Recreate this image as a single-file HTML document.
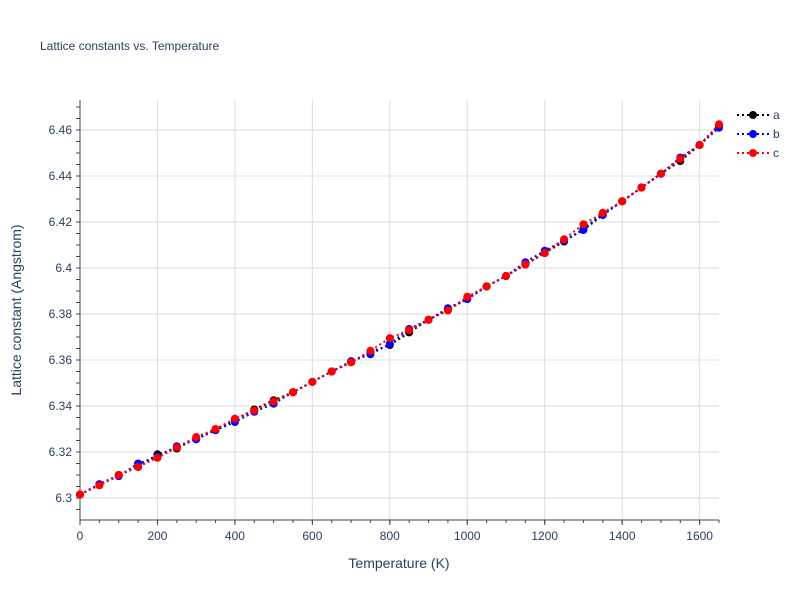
<!DOCTYPE html>
<html><head><meta charset="utf-8"><style>
body{margin:0;background:#fff;font-family:"Liberation Sans",sans-serif}
</style></head><body>
<svg id="chart" width="800" height="600" xmlns="http://www.w3.org/2000/svg" font-family="Liberation Sans, sans-serif">
<text x="40" y="50" font-size="12" fill="#2a3f5f">Lattice constants vs. Temperature</text>
<g id="grid"></g><g id="axes"></g><g id="series"></g><g id="legend"></g>
<text x="399" y="568" font-size="14" fill="#2a3f5f" text-anchor="middle">Temperature (K)</text>
<text transform="translate(21,310) rotate(-90)" font-size="14" fill="#2a3f5f" text-anchor="middle">Lattice constant (Angstrom)</text>
</svg>
<script>
const temps=[0,50,100,150,200,250,300,350,400,450,500,550,600,650,700,750,800,850,900,950,1000,1050,1100,1150,1200,1250,1300,1350,1400,1450,1500,1550,1600,1650];
const seriesA=[6.3015,6.306,6.310,6.3135,6.319,6.3215,6.326,6.3295,6.334,6.3385,6.3425,6.346,6.3505,6.355,6.359,6.3635,6.3665,6.372,6.3775,6.382,6.3865,6.392,6.3965,6.4015,6.4065,6.4115,6.417,6.4235,6.429,6.435,6.441,6.4465,6.4535,6.462];
const seriesB=[6.3015,6.306,6.3095,6.315,6.318,6.3225,6.3255,6.3295,6.333,6.3375,6.341,6.346,6.3505,6.355,6.3595,6.3625,6.367,6.3735,6.3775,6.3825,6.3865,6.392,6.3965,6.4025,6.4075,6.412,6.4165,6.423,6.429,6.435,6.441,6.448,6.4535,6.461];
const seriesC=[6.3015,6.3055,6.310,6.3135,6.3175,6.322,6.3265,6.330,6.3345,6.338,6.342,6.346,6.3505,6.355,6.359,6.364,6.3695,6.373,6.3775,6.3815,6.3875,6.392,6.3965,6.4015,6.4065,6.4125,6.419,6.424,6.429,6.435,6.441,6.4475,6.4535,6.4625];
const xTicks=[0,200,400,600,800,1000,1200,1400,1600];
const yTicks=[6.3,6.32,6.34,6.36,6.38,6.4,6.42,6.44,6.46];
const yLabels=["6.3","6.32","6.34","6.36","6.38","6.4","6.42","6.44","6.46"];
const seriesNames=["a","b","c"];
const NS="http://www.w3.org/2000/svg";
const L=80,R=719,T=100,B=520;
const xs=v=>L+(v-0)*(R-L)/1650;
const ys=v=>498-(v-6.3)*2300;
function mk(tag,attrs,parent){const e=document.createElementNS(NS,tag);for(const k in attrs)e.setAttribute(k,attrs[k]);parent.appendChild(e);return e;}
const grid=document.getElementById('grid'),axes=document.getElementById('axes'),ser=document.getElementById('series'),leg=document.getElementById('legend');
xTicks.forEach(t=>{const x=xs(t);
 const g=mk('line',{x1:x,x2:x,y1:T,y2:B,stroke:'#ddd'},grid);
 
 
 mk('line',{x1:x,x2:x,y1:B,y2:B+5,stroke:'#444'},axes);
 const tx=mk('text',{x:x,y:B+20,'font-size':12,fill:'#2a3f5f','text-anchor':'middle'},axes);tx.textContent=t;
 
 
});
yTicks.forEach((t,i)=>{const y=ys(t);
 const g=mk('line',{x1:L,x2:R,y1:y,y2:y,stroke:'#ddd'},grid);
 
 
 const tx=mk('text',{x:L-8,y:y+4,'font-size':12,fill:'#2a3f5f','text-anchor':'end'},axes);tx.textContent=yLabels[i];
 
 
});
for(let v=6.29;v<=6.4725;v+=0.005){const y=ys(v);if(y<T||y>B)continue;mk('line',{x1:L-4,x2:L,y1:y,y2:y,stroke:'#444'},axes);}
for(let v=0;v<=1650;v+=50){mk('line',{x1:xs(v),x2:xs(v),y1:B,y2:B+3,stroke:'#444'},axes);}
mk('line',{x1:L,x2:L,y1:T,y2:B,stroke:'#444'},axes);
mk('line',{x1:L,x2:R,y1:B,y2:B,stroke:'#444'},axes);
const colors=['#000','#00f','#f00'];
[seriesA,seriesB,seriesC].forEach((d,si)=>{
 const pts=d.map((v,i)=>xs(temps[i])+','+ys(v)).join(' ');
 const pl=mk('polyline',{points:pts,fill:'none',stroke:colors[si],'stroke-width':2,'stroke-dasharray':'2,3'},ser);
 
 
 d.forEach((v,i)=>{const c=mk('circle',{cx:xs(temps[i]),cy:ys(v),r:4,fill:colors[si]},ser);
  
  });
 const ly=115+si*19;
 const g=mk('g',{},leg);
 
 
 mk('line',{x1:737,x2:769,y1:ly,y2:ly,stroke:colors[si],'stroke-width':2,'stroke-dasharray':'2,3'},g);
 mk('circle',{cx:753,cy:ly,r:4,fill:colors[si]},g);
 const t=mk('text',{x:773,y:ly+4,'font-size':12,fill:'#2a3f5f'},g);t.textContent=seriesNames[si];
});
</script>
</body></html>
